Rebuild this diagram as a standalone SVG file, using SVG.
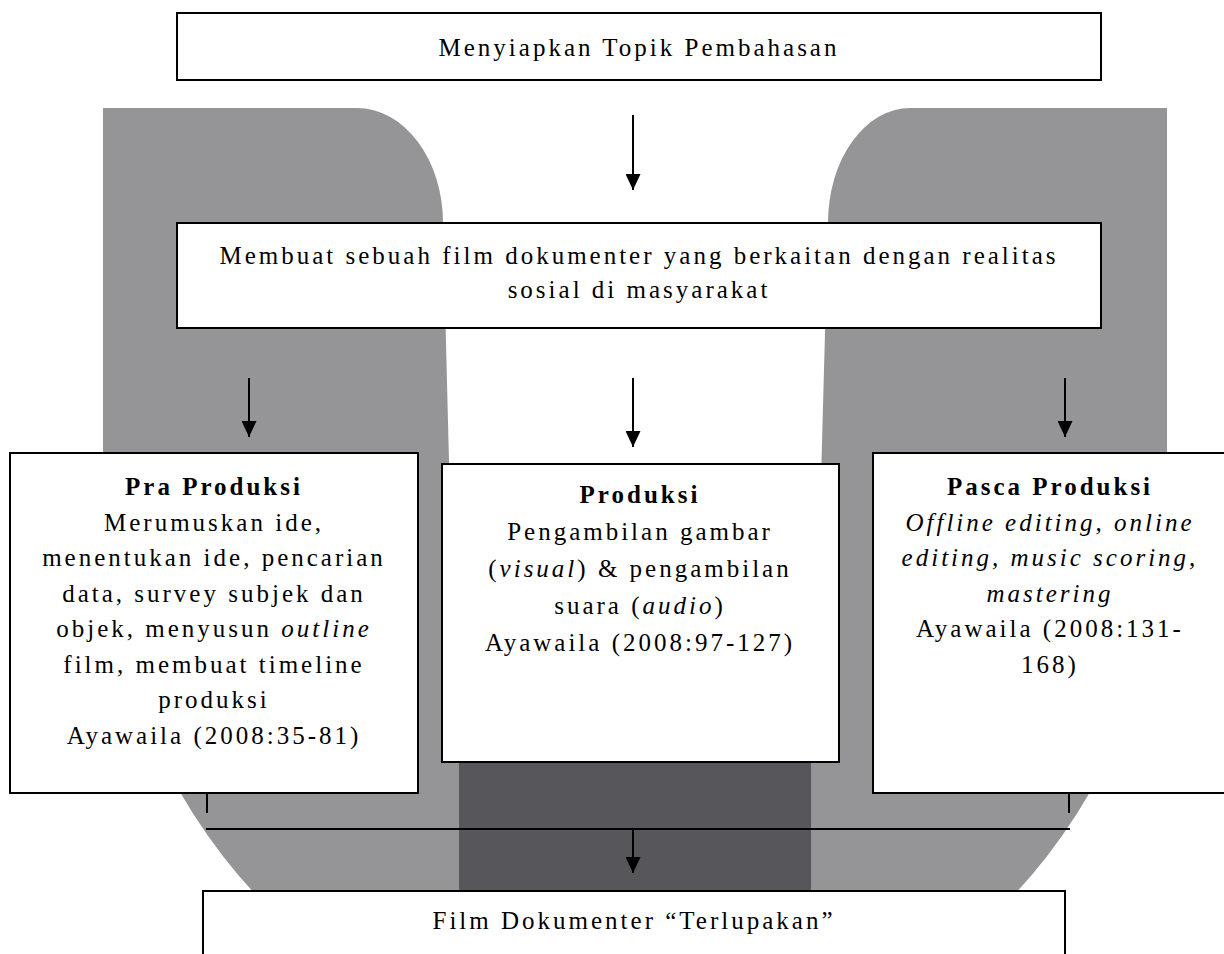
<svg xmlns="http://www.w3.org/2000/svg" width="1224" height="954" viewBox="0 0 1224 954">
<style>
.box{fill:#ffffff;stroke:#000;stroke-width:2}
.t{font-family:"Liberation Serif","Times New Roman",serif;font-size:25px;letter-spacing:3px;fill:#000;text-anchor:middle}
.b{font-weight:bold}
.i{font-style:italic}
.ln{stroke:#000;stroke-width:2;fill:none}
.ar{stroke:#000;stroke-width:2;fill:none;marker-end:url(#ah)}
</style>
<defs>
<marker id="ah" viewBox="0 0 16 15" refX="16" refY="7.5" markerWidth="16" markerHeight="15" markerUnits="userSpaceOnUse" orient="auto">
<path d="M0,0 L16,7.5 L0,15 Z" fill="#000"/>
</marker>
</defs>
<rect width="1224" height="954" fill="#fff"/>
<g id="background">
<path d="M103,108 L357,108 A86,115 0 0 1 443,223 L455,700 L815,700 L828,223 A82,115 0 0 1 910,108 L1167,108 L1167,502 A532,560 0 0 1 103,502 Z" fill="#959597"/>
<rect x="459" y="700" width="352" height="254" fill="#57575b"/>
</g>
<g id="connectors">
<line class="ar" x1="633" y1="115" x2="633" y2="190"/>
<line class="ar" x1="249" y1="378" x2="249" y2="437"/>
<line class="ar" x1="633" y1="378" x2="633" y2="447"/>
<line class="ar" x1="1065" y1="378" x2="1065" y2="437"/>
<line class="ln" x1="207" y1="793" x2="207" y2="813"/>
<line class="ln" x1="1069" y1="793" x2="1069" y2="813"/>
<line class="ln" x1="206" y1="829" x2="1070" y2="829"/>
<line class="ar" x1="633" y1="829" x2="633" y2="873"/>
</g>
<g id="node-topik">
<rect class="box" x="177" y="13" width="924" height="67"/>
<text class="t" x="639" y="56">Menyiapkan Topik Pembahasan</text>
</g>
<g id="node-membuat">
<rect class="box" x="177" y="223" width="924" height="105"/>
<text class="t" x="639" y="264">Membuat sebuah film dokumenter yang berkaitan dengan realitas</text>
<text class="t" x="639" y="298">sosial di masyarakat</text>
</g>
<g id="node-pra">
<rect class="box" x="10" y="453" width="408" height="340"/>
<text class="t b" x="214" y="495">Pra Produksi</text>
<text class="t" x="214" y="530.5">Merumuskan ide,</text>
<text class="t" x="214" y="566">menentukan ide, pencarian</text>
<text class="t" x="214" y="601.5">data, survey subjek dan</text>
<text class="t" x="214" y="637">objek, menyusun <tspan class="i">outline</tspan></text>
<text class="t" x="214" y="672.5">film, membuat timeline</text>
<text class="t" x="214" y="708">produksi</text>
<text class="t" x="214" y="743.5">Ayawaila (2008:35-81)</text>
</g>
<g id="node-produksi">
<rect class="box" x="442" y="464" width="397" height="298"/>
<text class="t b" x="640" y="503">Produksi</text>
<text class="t" x="640" y="540">Pengambilan gambar</text>
<text class="t" x="640" y="577">(<tspan class="i">visual</tspan>) &amp; pengambilan</text>
<text class="t" x="640" y="614">suara (<tspan class="i">audio</tspan>)</text>
<text class="t" x="640" y="651">Ayawaila (2008:97-127)</text>
</g>
<g id="node-pasca">
<rect class="box" x="873" y="453" width="354" height="340"/>
<text class="t b" x="1050" y="495">Pasca Produksi</text>
<text class="t i" x="1050" y="530.5">Offline editing, online</text>
<text class="t i" x="1050" y="566">editing, music scoring,</text>
<text class="t i" x="1050" y="601.5">mastering</text>
<text class="t" x="1050" y="637">Ayawaila (2008:131-</text>
<text class="t" x="1050" y="672.5">168)</text>
</g>
<g id="node-film">
<rect class="box" x="203" y="891" width="862" height="80"/>
<text class="t" x="634" y="929">Film Dokumenter “Terlupakan”</text>
</g>
</svg>
